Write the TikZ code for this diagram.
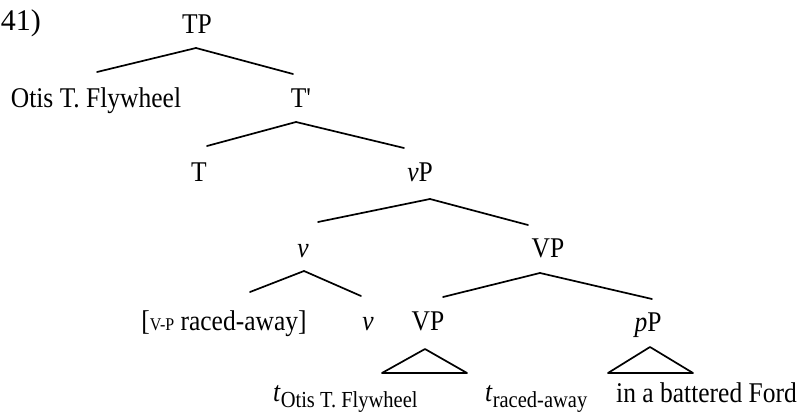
\documentclass[tikz,border=0pt]{standalone}
\usepackage{fontspec}
\usepackage{graphicx}
\setmainfont{Liberation Serif}
\usetikzlibrary{calc}
\newcommand{\subsz}{\fontsize{20.5}{20.5}\selectfont}
\newcommand{\scsz}{\fontsize{16}{16}\selectfont}
\newcommand{\stretchtxt}[1]{\scalebox{1}[1.12]{#1}}
\begin{document}
\begin{tikzpicture}[x=1pt,y=-1pt,
  lbl/.style={anchor=base,inner sep=0pt,font=\fontsize{25.5}{25.5}\selectfont},
  edge/.style={line width=1.7pt,line cap=round,line join=round}]
\useasboundingbox (0,0) rectangle (801,419);
% labels
\node[lbl,anchor=base east,font=\fontsize{30}{30}\selectfont] (num) at (41,31) {41)};
\node[lbl] (TP) at (197,34) {\stretchtxt{TP}};
\node[lbl] (Otis) at (96,108) {\stretchtxt{Otis T. Flywheel}};
\node[lbl] (Tbar) at (301,108) {\stretchtxt{T\textquotesingle}};
\node[lbl] (T) at (199,182) {\stretchtxt{T}};
\node[lbl] (vP) at (420,182) {\stretchtxt{\textit{v}P}};
\node[lbl] (v1) at (303,258) {\stretchtxt{\textit{v}}};
\node[lbl] (VP1) at (548,258) {\stretchtxt{VP}};
\node[lbl] (raced) at (224,331) {\stretchtxt{[{\scsz V-P} raced-away]}};
\node[lbl] (v2) at (368,331) {\stretchtxt{\textit{v}}};
\node[lbl] (VP2) at (428,331) {\stretchtxt{VP}};
\node[lbl] (pP) at (648,332) {\stretchtxt{\textit{p}P}};
\node[lbl,anchor=base west] (tO) at (273,402) {\stretchtxt{\textit{t}\raisebox{-5pt}{\subsz Otis T. Flywheel}}};
\node[lbl,anchor=base west] (tR) at (485,402) {\stretchtxt{\textit{t}\raisebox{-5pt}{\subsz raced-away}}};
\node[lbl,anchor=base east] (Ford) at (797,403) {\stretchtxt{in a battered Ford}};
% branches
\draw[edge] ($(TP.base)+(-1,14)$) -- ($(Otis.base)+(1,-36)$);
\draw[edge] ($(TP.base)+(-1,14)$) -- ($(Tbar.base)+(-8,-34)$);
\draw[edge] ($(Tbar.base)+(-5,14)$) -- ($(T.base)+(8,-36)$);
\draw[edge] ($(Tbar.base)+(-5,14)$) -- ($(vP.base)+(-16,-34)$);
\draw[edge] ($(vP.base)+(10,17)$) -- ($(v1.base)+(15,-36)$);
\draw[edge] ($(vP.base)+(10,17)$) -- ($(VP1.base)+(-20,-33)$);
\draw[edge] ($(v1.base)+(1,13)$) -- ($(raced.base)+(26,-39)$);
\draw[edge] ($(v1.base)+(1,13)$) -- ($(v2.base)+(-7,-35)$);
\draw[edge] ($(VP1.base)+(-8,15)$) -- ($(VP2.base)+(15,-34)$);
\draw[edge] ($(VP1.base)+(-8,15)$) -- ($(pP.base)+(4,-33)$);
% triangles
\draw[edge] ($(VP2.base)+(-3,18)$) -- ($(VP2.base)+(-46,42)$) -- ($(VP2.base)+(39,42)$) -- cycle;
\draw[edge] ($(pP.base)+(2,15)$) -- ($(pP.base)+(-40,41)$) -- ($(pP.base)+(45,41)$) -- cycle;
\end{tikzpicture}
\end{document}
